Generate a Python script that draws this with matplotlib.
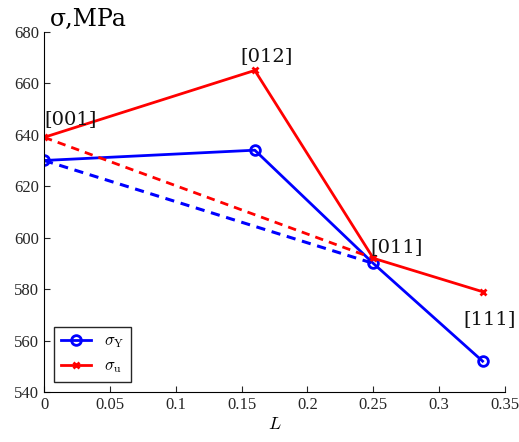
import matplotlib
matplotlib.use('Agg')
import matplotlib.pyplot as plt

# orientation parameter L and stresses (MPa)
L = [0, 0.16, 0.25, 0.333]
sigma_y = [630, 634, 590, 552]
sigma_u = [639, 665, 592, 579]
# straight-line guides from [001] to [011]
L_guide = [0, 0.25]
guide_y = [630, 590]
guide_u = [639, 592]
orient_labels = ['[001]', '[012]', '[011]', '[111]']
label_pos = [(0.0, 642.5), (0.149, 667), (0.2475, 593), (0.3185, 565)]

plt.rcParams['font.family'] = ['Liberation Serif', 'DejaVu Serif']
plt.rcParams['mathtext.fontset'] = 'cm'

fig = plt.figure(figsize=(5.19, 4.42), dpi=100)
ax = fig.add_axes([0.085, 0.113, 0.888, 0.815])

ax.plot(L, sigma_y, color='#0000ff', lw=2, marker='o', ms=7, mfc='none', mew=2,
        label=r'$\sigma_\mathrm{Y}$')
ax.plot(L, sigma_u, color='#ff0000', lw=2, marker='x', ms=5, mew=2,
        label=r'$\sigma_\mathrm{u}$')
ax.plot(L_guide, guide_y, color='#0000ff', lw=2.2, ls=(0, (3, 2.2)))
ax.plot(L_guide, guide_u, color='#ff0000', lw=2, ls=(0, (3, 2.2)))

for txt, (x, y) in zip(orient_labels, label_pos):
    ax.text(x, y, txt, fontsize=14, family='DejaVu Serif', color='#111111',
            ha='left', va='bottom')

ax.set_xlim(0, 0.35)
ax.set_ylim(540, 680)
ax.set_xticks([0, 0.05, 0.1, 0.15, 0.2, 0.25, 0.3, 0.35])
ax.set_xticklabels(['0', '0.05', '0.1', '0.15', '0.2', '0.25', '0.3', '0.35'])
ax.set_yticks(range(540, 681, 20))
ax.tick_params(direction='in', labelsize=12, length=4, colors='#262626')
ax.spines['top'].set_visible(False)
ax.spines['right'].set_visible(False)
ax.set_xlabel('$L$', fontsize=13, labelpad=2)
fig.text(0.097, 0.93, 'σ,MPa', fontsize=17, family='DejaVu Serif',
         ha='left', va='bottom')

ax.legend(loc='lower left', fontsize=12, fancybox=False, edgecolor='#262626',
          handlelength=1.8, borderaxespad=0.6, framealpha=1)

fig.savefig('out.png', dpi=100)
